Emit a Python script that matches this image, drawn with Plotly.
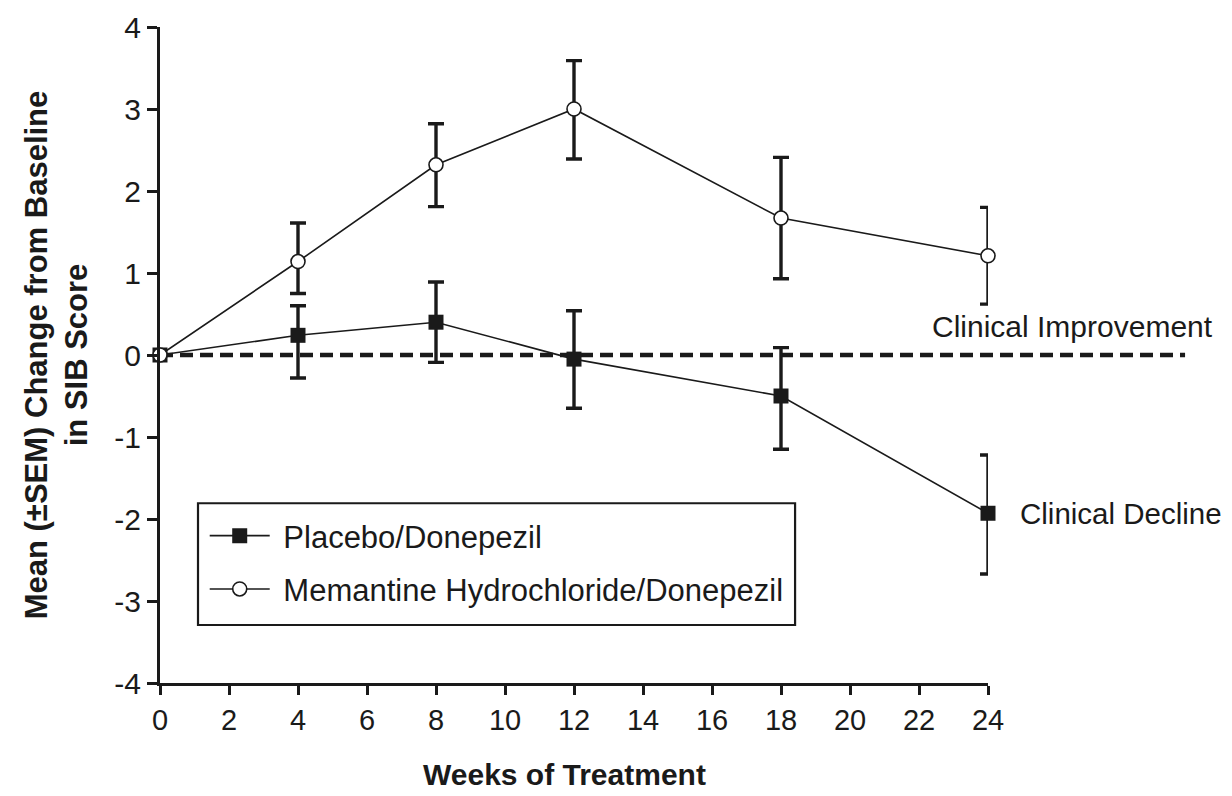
import plotly.graph_objects as go

# ---- data ----
weeks = [0, 4, 8, 12, 18, 24]

placebo_mean = [0, 0.24, 0.40, -0.05, -0.50, -1.93]
placebo_upper = [None, 0.60, 0.89, 0.54, 0.09, -1.22]
placebo_lower = [None, -0.28, -0.09, -0.65, -1.15, -2.67]

memantine_mean = [0, 1.14, 2.32, 3.00, 1.67, 1.21]
memantine_upper = [None, 1.61, 2.82, 3.59, 2.41, 1.80]
memantine_lower = [None, 0.75, 1.81, 2.39, 0.93, 0.62]

series_names = ["Placebo/Donepezil", "Memantine Hydrochloride/Donepezil"]
x_ticks = list(range(0, 25, 2))
y_ticks = [-4, -3, -2, -1, 0, 1, 2, 3, 4]
y_tick_text = ["-4", "-3", "-2", "-1", "0", "1", "2", "3", "4"]
reference_level = 0
note_improvement = "Clinical Improvement"
note_decline = "Clinical Decline"
x_title = "Weeks of Treatment"
y_title = "Mean (±SEM) Change from Baseline<br>in SIB Score"


def plus(up, m):
    return [None if u is None else u - v for u, v in zip(up, m)]


def minus(lo, m):
    return [None if l is None else v - l for l, v in zip(lo, m)]


FONT = "Liberation Sans Narrow, Arial Narrow, Liberation Sans, Arial, sans-serif"
INK = "#1a1a1a"
PAD = "\u00a0"

fig = go.Figure()

fig.add_trace(go.Scatter(
    x=weeks, y=placebo_mean, name=PAD + series_names[0], mode="lines+markers",
    line=dict(color=INK, width=1.6),
    marker=dict(symbol="square", size=15, color=INK, line=dict(width=0)),
    error_y=dict(type="data", symmetric=False,
                 array=plus(placebo_upper, placebo_mean),
                 arrayminus=minus(placebo_lower, placebo_mean),
                 color=INK, thickness=3.4, width=8),
    cliponaxis=False, legendgroup="a",
))

fig.add_trace(go.Scatter(
    x=weeks, y=memantine_mean, name=PAD + series_names[1], mode="lines+markers",
    line=dict(color=INK, width=1.6),
    marker=dict(symbol="circle", size=14, color="white", line=dict(color=INK, width=1.6)),
    error_y=dict(type="data", symmetric=False,
                 array=plus(memantine_upper, memantine_mean),
                 arrayminus=minus(memantine_lower, memantine_mean),
                 color=INK, thickness=3.4, width=8),
    cliponaxis=False, legendgroup="b",
))

yr = [-4, 4]
ref_paper = (reference_level - yr[0]) / (yr[1] - yr[0])
fig.add_shape(type="line", xref="paper", yref="paper",
              x0=0, x1=1.238, y0=ref_paper, y1=ref_paper,
              line=dict(color=INK, width=4.5, dash="13px,7px"), layer="below")

# legend frame
fig.add_shape(type="rect", xref="paper", yref="paper",
              x0=0.0459, x1=0.767, y0=0.0884, y1=0.274,
              line=dict(color=INK, width=2.2), fillcolor="white", layer="below")

fig.add_annotation(x=1.0, xref="paper", y=0.35, yref="y", xshift=227,
                   text=note_improvement, showarrow=False, xanchor="right",
                   font=dict(family=FONT, size=30, color=INK))
fig.add_annotation(x=24, xref="x", y=placebo_mean[-1], yref="y", xshift=30,
                   text=note_decline, showarrow=False, xanchor="left",
                   font=dict(family=FONT, size=29.5, color=INK))
fig.add_annotation(x=0.488, xref="paper", y=-0.139, yref="paper",
                   text="<b>" + x_title + "</b>", showarrow=False,
                   xanchor="center", yanchor="middle",
                   font=dict(family=FONT, size=30, color=INK))

fig.update_layout(
    width=1224, height=788,
    margin=dict(l=152, r=244, t=19, b=113, autoexpand=False),
    paper_bgcolor="white", plot_bgcolor="white",
    showlegend=True,
    legend=dict(x=0.054, y=0.1837, xanchor="left", yanchor="middle",
                borderwidth=0, bgcolor="rgba(0,0,0,0)",
                font=dict(family=FONT, size=31, color=INK),
                itemwidth=60, tracegroupgap=10, traceorder="grouped"),
    xaxis=dict(range=[0, 24], tickvals=x_ticks, showline=True, linecolor=INK,
               linewidth=3, ticks="outside", ticklen=9, tickwidth=3, tickcolor=INK,
               showgrid=False, zeroline=False, automargin=False,
               tickfont=dict(family=FONT, size=29, color=INK)),
    yaxis=dict(range=yr, tickvals=y_ticks, ticktext=y_tick_text, showline=True,
               linecolor=INK, linewidth=3, ticks="outside", ticklen=10, tickwidth=3,
               tickcolor=INK, showgrid=False, zeroline=False, automargin=False,
               tickfont=dict(family=FONT, size=30, color=INK),
               title=dict(text="<b>" + y_title + "</b>", standoff=18,
                          font=dict(family=FONT, size=31, color=INK))),
)

fig.write_html("out.html")
